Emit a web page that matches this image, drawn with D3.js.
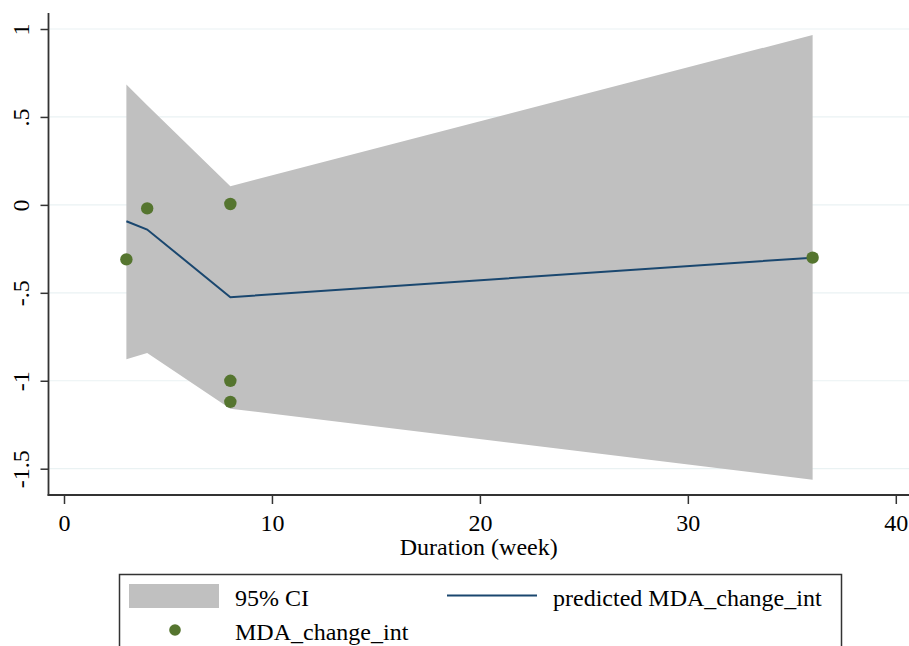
<!DOCTYPE html>
<html>
<head>
<meta charset="utf-8">
<script src="https://cdn.jsdelivr.net/npm/d3@7"></script>
<style>
  html, body { margin: 0; padding: 0; background: #ffffff; }
  svg { display: block; }
</style>
</head>
<body>
<svg id="chart" width="909" height="646"></svg>
<script>
// Observed MDA change by duration
const obsDuration = [3, 4, 8, 8, 8, 36];
const obsChange = [-0.31, -0.02, 0.005, -1.0, -1.12, -0.30];

// Fitted values and 95% confidence band
const fitDuration = [3, 4, 8, 36];
const fitPredicted = [-0.093, -0.14, -0.525, -0.30];
const fitUpper = [0.685, 0.567, 0.106, 0.966];
const fitLower = [-0.878, -0.842, -1.159, -1.563];

// Axis ticks
const xTicks = [0, 10, 20, 30, 40];
const yTicks = [1, 0.5, 0, -0.5, -1, -1.5];
const yTickLabels = ["1", ".5", "0", "-.5", "-1", "-1.5"];

const legendLabels = ["95% CI", "predicted MDA_change_int", "MDA_change_int"];

const colors = { ci: "#c0c0c0", line: "#1a476f", dot: "#55752f", grid: "#eaf2f3", axis: "#333333" };
const FONT = "'Liberation Serif', 'Times New Roman', 'DejaVu Serif', serif";

const svg = d3.select("#chart").attr("font-family", FONT);
const plot = { left: 48.5, right: 909, top: 13, bottom: 495 };

const x = d3.scaleLinear().domain([0, 40]).range([64, 895.8]);
const y = d3.scaleLinear().domain([-1.5, 1]).range([468.7, 29]);

// grid lines
svg.append("g").selectAll("line").data(yTicks).join("line")
  .attr("x1", plot.left + 1).attr("x2", plot.right)
  .attr("y1", d => y(d)).attr("y2", d => y(d))
  .attr("stroke", colors.grid).attr("stroke-width", 1.2);

// confidence band
const band = fitDuration.map((d, i) => ({ x: d, lo: fitLower[i], hi: fitUpper[i], p: fitPredicted[i] }));
svg.append("path").datum(band)
  .attr("d", d3.area().x(d => x(d.x)).y0(d => y(d.lo)).y1(d => y(d.hi)))
  .attr("fill", colors.ci);

// predicted line
svg.append("path").datum(band)
  .attr("d", d3.line().x(d => x(d.x)).y(d => y(d.p)))
  .attr("fill", "none").attr("stroke", colors.line).attr("stroke-width", 2);

// observed points
svg.append("g").selectAll("circle").data(obsDuration.map((d, i) => [d, obsChange[i]])).join("circle")
  .attr("cx", d => x(d[0])).attr("cy", d => y(d[1])).attr("r", 6.2)
  .attr("fill", colors.dot);

// y axis
const yAxis = d3.axisLeft(y).tickValues(yTicks).tickSize(8)
  .tickFormat((d, i) => yTickLabels[i]);
const gy = svg.append("g").attr("transform", `translate(${plot.left},0)`).call(yAxis)
  .attr("font-family", FONT).attr("font-size", 24);
gy.select(".domain").remove();
gy.selectAll(".tick line").attr("stroke", colors.axis).attr("stroke-width", 1.5);
gy.selectAll(".tick text")
  .attr("x", null).attr("dy", null)
  .attr("text-anchor", "middle")
  .attr("fill", "#000")
  .attr("transform", "translate(-19.5,0) rotate(-90)");
svg.append("line")
  .attr("x1", plot.left).attr("x2", plot.left)
  .attr("y1", plot.top).attr("y2", plot.bottom + 0.75)
  .attr("stroke", colors.axis).attr("stroke-width", 1.8);

// x axis
const xAxis = d3.axisBottom(x).tickValues(xTicks).tickSize(9).tickPadding(8)
  .tickFormat(d3.format("d"));
const gx = svg.append("g").attr("transform", `translate(0,${plot.bottom})`).call(xAxis)
  .attr("font-family", FONT).attr("font-size", 24);
gx.select(".domain").remove();
gx.selectAll(".tick line").attr("stroke", colors.axis).attr("stroke-width", 1.5);
gx.selectAll(".tick text").attr("dy", null).attr("y", 35.5).attr("fill", "#000");
svg.append("line")
  .attr("x1", plot.left - 0.9).attr("x2", plot.right)
  .attr("y1", plot.bottom).attr("y2", plot.bottom)
  .attr("stroke", colors.axis).attr("stroke-width", 1.8);

svg.append("text")
  .attr("x", (plot.left + plot.right) / 2).attr("y", 555)
  .attr("text-anchor", "middle").attr("font-size", 24)
  .text("Duration (week)");

// legend
const lg = svg.append("g").attr("font-size", 24);
lg.append("rect")
  .attr("x", 119.5).attr("y", 574.5).attr("width", 722).attr("height", 90)
  .attr("fill", "#fff").attr("stroke", colors.axis).attr("stroke-width", 1.5);
lg.append("rect").attr("x", 129).attr("y", 584).attr("width", 90).attr("height", 24).attr("fill", colors.ci);
lg.append("text").attr("x", 235).attr("y", 605.5).text(legendLabels[0]);
lg.append("line").attr("x1", 447).attr("x2", 537).attr("y1", 595.5).attr("y2", 595.5)
  .attr("stroke", colors.line).attr("stroke-width", 2);
lg.append("text").attr("x", 553).attr("y", 605.5).text(legendLabels[1]);
lg.append("circle").attr("cx", 175).attr("cy", 630).attr("r", 5.8).attr("fill", colors.dot);
lg.append("text").attr("x", 235).attr("y", 640).text(legendLabels[2]);
</script>
</body>
</html>
